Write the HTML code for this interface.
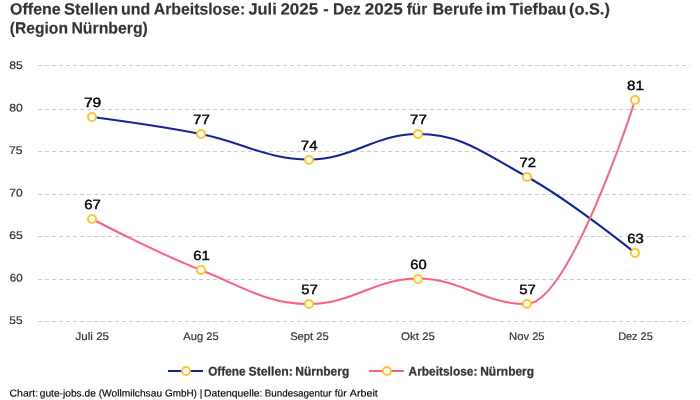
<!DOCTYPE html>
<html lang="de"><head><meta charset="utf-8"><title>Offene Stellen und Arbeitslose</title>
<style>
html,body{margin:0;padding:0;background:#fff;}
body{width:700px;height:400px;overflow:hidden;}
svg{display:block;font-family:"Liberation Sans",sans-serif;text-rendering:geometricPrecision;}
.t{font-weight:bold;font-size:16.3px;fill:#333;stroke:#333;stroke-width:0.15px;}
.ax{font-size:11px;fill:#333;stroke:#333;stroke-width:0.2px;}
.dl{font-weight:normal;font-size:13.3px;fill:#000;stroke:#000;stroke-width:0.4px;}
.lg{font-weight:bold;font-size:12.5px;fill:#333;stroke:#333;stroke-width:0.25px;}
.ft{font-size:10px;fill:#000;stroke:#000;stroke-width:0.15px;}
</style></head><body>
<svg width="700" height="400" viewBox="0 0 700 400" role="img"><title>Offene Stellen und Arbeitslose: Juli 2025 - Dez 2025 für Berufe im Tiefbau (o.S.) (Region Nürnberg)</title>
<rect width="700" height="400" fill="#fff"/>
<path d="M 38 65.5 L 690 65.5" stroke="#cccccc" stroke-width="1" stroke-dasharray="4,3" fill="none"/>
<path d="M 38 109.5 L 690 109.5" stroke="#cccccc" stroke-width="1" stroke-dasharray="4,3" fill="none"/>
<path d="M 38 151.5 L 690 151.5" stroke="#cccccc" stroke-width="1" stroke-dasharray="4,3" fill="none"/>
<path d="M 38 194.5 L 690 194.5" stroke="#cccccc" stroke-width="1" stroke-dasharray="4,3" fill="none"/>
<path d="M 38 236.5 L 690 236.5" stroke="#cccccc" stroke-width="1" stroke-dasharray="4,3" fill="none"/>
<path d="M 38 279.5 L 690 279.5" stroke="#cccccc" stroke-width="1" stroke-dasharray="4,3" fill="none"/>
<path d="M 38 321.5 L 690 321.5" stroke="#cccccc" stroke-width="1" stroke-dasharray="4,3" fill="none"/>
<path d="M 92.10 117.00 C 92.10 117.00 157.26 125.50 200.70 134.00 C 244.14 142.50 265.86 159.50 309.30 159.50 C 352.74 159.50 374.46 134.00 417.90 134.00 C 461.34 134.00 483.06 152.70 526.50 176.50 C 569.94 200.30 635.10 253.00 635.10 253.00" fill="none" stroke="#122596" stroke-width="2" stroke-linecap="round" stroke-linejoin="round"/>
<circle cx="92" cy="117" r="4" fill="#fff" stroke="#FFC629" stroke-width="2"/>
<circle cx="201" cy="134" r="4" fill="#fff" stroke="#FFC629" stroke-width="2"/>
<circle cx="309" cy="160" r="4" fill="#fff" stroke="#FFC629" stroke-width="2"/>
<circle cx="418" cy="134" r="4" fill="#fff" stroke="#FFC629" stroke-width="2"/>
<circle cx="527" cy="177" r="4" fill="#fff" stroke="#FFC629" stroke-width="2"/>
<circle cx="635" cy="253" r="4" fill="#fff" stroke="#FFC629" stroke-width="2"/>
<path d="M 92.10 219.00 C 92.10 219.00 157.26 253.00 200.70 270.00 C 244.14 287.00 265.86 304.00 309.30 304.00 C 352.74 304.00 374.46 278.50 417.90 278.50 C 461.34 278.50 483.06 304.00 526.50 304.00 C 569.94 304.00 635.10 100.00 635.10 100.00" fill="none" stroke="#FF5F80" stroke-width="2" stroke-linecap="round" stroke-linejoin="round"/>
<circle cx="92" cy="219" r="4" fill="#fff" stroke="#FFC629" stroke-width="2"/>
<circle cx="201" cy="270" r="4" fill="#fff" stroke="#FFC629" stroke-width="2"/>
<circle cx="309" cy="304" r="4" fill="#fff" stroke="#FFC629" stroke-width="2"/>
<circle cx="418" cy="279" r="4" fill="#fff" stroke="#FFC629" stroke-width="2"/>
<circle cx="527" cy="304" r="4" fill="#fff" stroke="#FFC629" stroke-width="2"/>
<circle cx="635" cy="100" r="4" fill="#fff" stroke="#FFC629" stroke-width="2"/>
<text class="t" transform="matrix(0.9825 0.0005 0 1 10.09 14.50)">Offene</text>
<text class="t" transform="matrix(1.0130 0.0005 0 1 63.95 14.50)">Stellen</text>
<text class="t" transform="matrix(0.9759 0.0005 0 1 121.09 14.50)">und</text>
<text class="t" transform="matrix(0.9714 0.0005 0 1 153.74 14.50)">Arbeitslose:</text>
<text class="t" transform="matrix(1.0085 0.0005 0 1 248.42 14.50)">Juli</text>
<text class="t" transform="matrix(1.0402 0.0005 0 1 280.40 14.50)">2025</text>
<text class="t" transform="matrix(1.0000 0.0005 0 1 323.34 14.50)">-</text>
<text class="t" transform="matrix(0.9570 0.0005 0 1 332.99 14.50)">Dez</text>
<text class="t" transform="matrix(1.0497 0.0005 0 1 364.83 14.50)">2025</text>
<text class="t" transform="matrix(0.9444 0.0005 0 1 406.71 14.50)">für</text>
<text class="t" transform="matrix(0.9705 0.0005 0 1 432.71 14.50)">Berufe</text>
<text class="t" transform="matrix(1.0660 0.0005 0 1 485.87 14.50)">im</text>
<text class="t" transform="matrix(0.9787 0.0005 0 1 509.86 14.50)">Tiefbau</text>
<text class="t" transform="matrix(1.0035 0.0005 0 1 569.00 14.50)">(o.S.)</text>
<text class="t" transform="matrix(0.9593 0.0005 0 1 9.79 33.50)">(Region</text>
<text class="t" transform="matrix(0.9708 0.0005 0 1 71.46 33.50)">Nürnberg)</text>
<text class="ax" transform="matrix(1.0558 0.0005 0 1 75.48 340.00)">Juli 25</text>
<text class="ax" transform="matrix(1.0140 0.0005 0 1 183.31 340.00)">Aug 25</text>
<text class="ax" transform="matrix(1.0193 0.0005 0 1 290.13 340.00)">Sept 25</text>
<text class="ax" transform="matrix(1.0425 0.0005 0 1 401.11 340.00)">Okt 25</text>
<text class="ax" transform="matrix(1.0197 0.0005 0 1 509.07 340.00)">Nov 25</text>
<text class="ax" transform="matrix(0.9941 0.0005 0 1 618.14 340.00)">Dez 25</text>
<text class="lg" transform="matrix(0.9410 0.0005 0 1 208.19 375.50)">Offene</text>
<text class="lg" transform="matrix(0.9781 0.0005 0 1 248.58 375.50)">Stellen:</text>
<text class="lg" transform="matrix(0.9603 0.0005 0 1 295.21 375.50)">Nürnberg</text>
<text class="lg" transform="matrix(0.9519 0.0005 0 1 408.58 375.50)">Arbeitslose:</text>
<text class="lg" transform="matrix(0.9584 0.0005 0 1 480.19 375.50)">Nürnberg</text>
<text class="ft" transform="matrix(1.0513 0.0005 0 1 9.49 396.50)">Chart:</text>
<text class="ft" transform="matrix(1.0181 0.0005 0 1 39.76 396.50)">gute-jobs.de</text>
<text class="ft" transform="matrix(1.0218 0.0005 0 1 98.66 396.50)">(Wollmilchsau</text>
<text class="ft" transform="matrix(0.9904 0.0005 0 1 164.96 396.50)">GmbH)</text>
<text class="ft" transform="matrix(1.0000 0.0005 0 1 199.68 396.50)">|</text>
<text class="ft" transform="matrix(1.0400 0.0005 0 1 204.04 396.50)">Datenquelle:</text>
<text class="ft" transform="matrix(0.9853 0.0005 0 1 264.69 396.50)">Bundesagentur</text>
<text class="ft" transform="matrix(1.0165 0.0005 0 1 334.65 396.50)">für</text>
<text class="ft" transform="matrix(1.0688 0.0005 0 1 349.84 396.50)">Arbeit</text>
<text class="ax" transform="matrix(1.0802 0.0005 0 1 9.37 324.00)">55</text>
<text class="ax" transform="matrix(1.0531 0.0005 0 1 9.72 281.50)">60</text>
<text class="ax" transform="matrix(1.1121 0.0005 0 1 9.23 239.00)">65</text>
<text class="ax" transform="matrix(1.0964 0.0005 0 1 9.19 196.50)">70</text>
<text class="ax" transform="matrix(1.1146 0.0005 0 1 9.03 154.00)">75</text>
<text class="ax" transform="matrix(1.1017 0.0005 0 1 9.35 111.50)">80</text>
<text class="ax" transform="matrix(1.1064 0.0005 0 1 9.31 69.00)">85</text>
<text class="dl" transform="matrix(1.1750 0.0005 0 1 83.92 106.90)">79</text>
<text class="dl" transform="matrix(1.1320 0.0005 0 1 193.10 123.90)">77</text>
<text class="dl" transform="matrix(1.1267 0.0005 0 1 300.87 149.90)">74</text>
<text class="dl" transform="matrix(1.1320 0.0005 0 1 410.10 123.90)">77</text>
<text class="dl" transform="matrix(1.1155 0.0005 0 1 519.39 166.90)">72</text>
<text class="dl" transform="matrix(1.1194 0.0005 0 1 627.19 242.90)">63</text>
<text class="dl" transform="matrix(1.1279 0.0005 0 1 84.23 208.90)">67</text>
<text class="dl" transform="matrix(1.1207 0.0005 0 1 193.25 259.90)">61</text>
<text class="dl" transform="matrix(1.1246 0.0005 0 1 301.29 293.90)">57</text>
<text class="dl" transform="matrix(1.1058 0.0005 0 1 410.28 268.90)">60</text>
<text class="dl" transform="matrix(1.1246 0.0005 0 1 519.29 293.90)">57</text>
<text class="dl" transform="matrix(1.1429 0.0005 0 1 627.05 89.90)">81</text>
<path d="M 168 371 L 203 371" stroke="#122596" stroke-width="2" fill="none"/>
<circle cx="186" cy="371" r="4" fill="#fff" stroke="#FFC629" stroke-width="2"/>
<path d="M 369 371 L 404 371" stroke="#FF5F80" stroke-width="2" fill="none"/>
<circle cx="387" cy="371" r="4" fill="#fff" stroke="#FFC629" stroke-width="2"/>
</svg></body></html>
